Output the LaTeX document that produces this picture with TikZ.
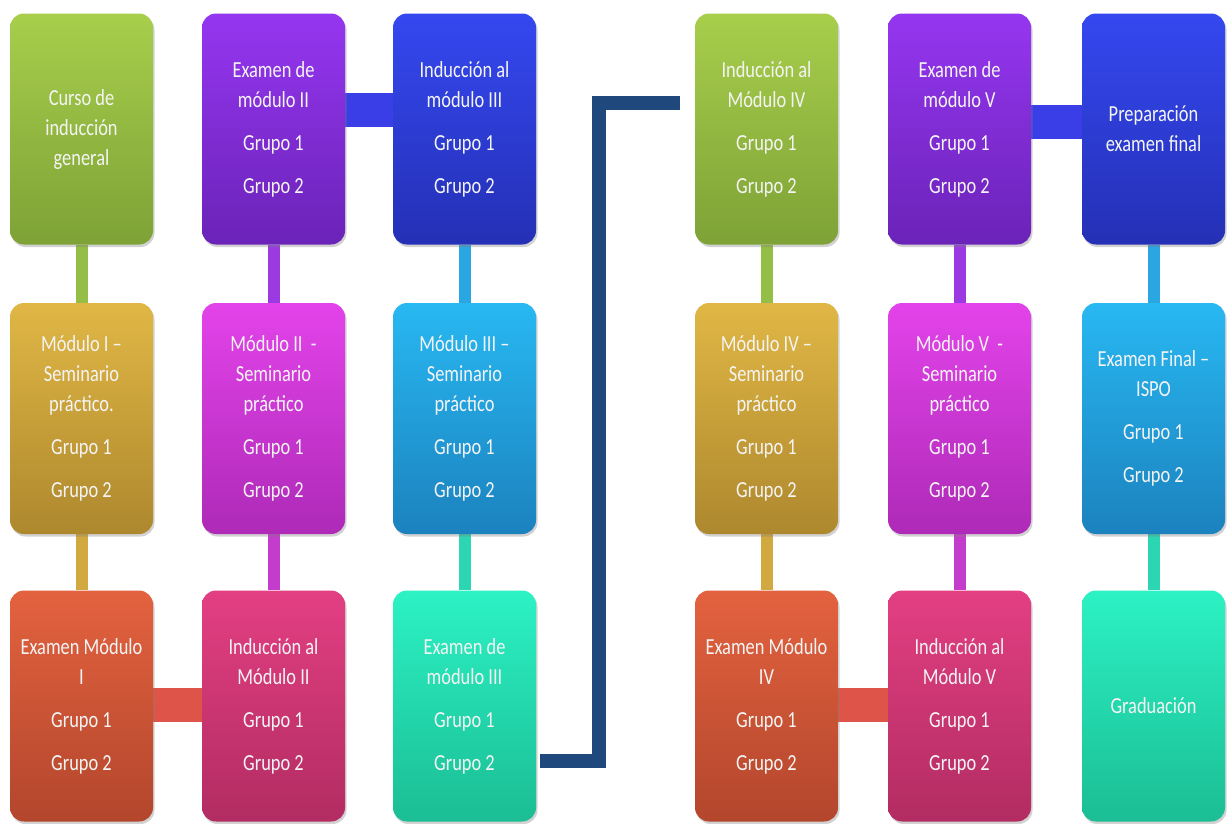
\documentclass[tikz,border=0pt]{standalone}
\usepackage{fontspec}
\setmainfont[FakeStretch=0.8]{Carlito}
\usetikzlibrary{shadows,backgrounds}
\definecolor{cgreenT}{HTML}{A8CE4C}\definecolor{cgreenB}{HTML}{7EA236}
\definecolor{cgoldT}{HTML}{E0B745}\definecolor{cgoldB}{HTML}{AE882E}
\definecolor{credT}{HTML}{E3623F}\definecolor{credB}{HTML}{B3462C}
\definecolor{cpurT}{HTML}{9536F0}\definecolor{cpurB}{HTML}{6B23B8}
\definecolor{cmagT}{HTML}{E343EA}\definecolor{cmagB}{HTML}{AE2AB7}
\definecolor{cpinkT}{HTML}{E33F82}\definecolor{cpinkB}{HTML}{B22C62}
\definecolor{cblueT}{HTML}{3548F0}\definecolor{cblueB}{HTML}{2430B5}
\definecolor{cskyT}{HTML}{28B8F2}\definecolor{cskyB}{HTML}{1B82BE}
\definecolor{caquaT}{HTML}{2CF2C4}\definecolor{caquaB}{HTML}{1BBD94}
\definecolor{celbow}{HTML}{1F497D}
\definecolor{cgreenL}{HTML}{94BE45}\definecolor{cgoldL}{HTML}{D2A840}
\definecolor{credL}{HTML}{DE5448}\definecolor{cpurL}{HTML}{9A3AE0}
\definecolor{cmagL}{HTML}{C43CCC}\definecolor{cblueL}{HTML}{3A3EE6}
\definecolor{cskyL}{HTML}{2AA6E2}\definecolor{caquaL}{HTML}{2CD6B2}
\definecolor{ctext}{HTML}{F4F4F4}
\tikzset{
  box/.style={rounded corners=14pt, minimum width=143pt, minimum height=231pt,
    text width=140pt, align=flush center, inner sep=0pt, text=ctext,
    font=\fontsize{23}{30}\selectfont,
    drop shadow={opacity=0.35, shadow xshift=1.5pt, shadow yshift=-2.5pt}},
  green/.style={box, top color=cgreenT, bottom color=cgreenB},
  gold/.style={box, top color=cgoldT, bottom color=cgoldB},
  red/.style={box, top color=credT, bottom color=credB},
  purple/.style={box, top color=cpurT, bottom color=cpurB},
  magenta/.style={box, top color=cmagT, bottom color=cmagB},
  pink/.style={box, top color=cpinkT, bottom color=cpinkB},
  blue/.style={box, top color=cblueT, bottom color=cblueB},
  sky/.style={box, top color=cskyT, bottom color=cskyB},
  aqua/.style={box, top color=caquaT, bottom color=caquaB},
  vconn/.style={line width=12pt},
  hconn/.style={line width=34pt},
  elbow/.style={line width=14pt, color=celbow, line join=miter}
}
\begin{document}
\begin{tikzpicture}[x=1pt,y=-1pt]
\useasboundingbox (0,0) rectangle (1228,823);
% column 1
\node[green] (b11) at (81.5,129) {Curso de\\inducción\\general};
\node[gold] (b21) at (81.5,418.5) {Módulo I –\\Seminario\\práctico.\\[13pt]Grupo 1\\[13pt]Grupo 2};
\node[red] (b31) at (81.5,706) {Examen Módulo\\I\\[13pt]Grupo 1\\[13pt]Grupo 2};
% column 2
\node[purple] (b12) at (273.5,129) {Examen de\\módulo II\\[13pt]Grupo 1\\[13pt]Grupo 2};
\node[magenta] (b22) at (273.5,418.5) {Módulo II~~-\\Seminario\\práctico\\[13pt]Grupo 1\\[13pt]Grupo 2};
\node[pink] (b32) at (273.5,706) {Inducción al\\Módulo II\\[13pt]Grupo 1\\[13pt]Grupo 2};
% column 3
\node[blue] (b13) at (464.5,129) {Inducción al\\módulo III\\[13pt]Grupo 1\\[13pt]Grupo 2};
\node[sky] (b23) at (464.5,418.5) {Módulo III –\\Seminario\\práctico\\[13pt]Grupo 1\\[13pt]Grupo 2};
\node[aqua] (b33) at (464.5,706) {Examen de\\módulo III\\[13pt]Grupo 1\\[13pt]Grupo 2};
% column 4
\node[green] (b14) at (766.5,129) {Inducción al\\Módulo IV\\[13pt]Grupo 1\\[13pt]Grupo 2};
\node[gold] (b24) at (766.5,418.5) {Módulo IV –\\Seminario\\práctico\\[13pt]Grupo 1\\[13pt]Grupo 2};
\node[red] (b34) at (766.5,706) {Examen Módulo\\IV\\[13pt]Grupo 1\\[13pt]Grupo 2};
% column 5
\node[purple] (b15) at (959.5,129) {Examen de\\módulo V\\[13pt]Grupo 1\\[13pt]Grupo 2};
\node[magenta] (b25) at (959.5,418.5) {Módulo V~~-\\Seminario\\práctico\\[13pt]Grupo 1\\[13pt]Grupo 2};
\node[pink] (b35) at (959.5,706) {Inducción al\\Módulo V\\[13pt]Grupo 1\\[13pt]Grupo 2};
% column 6
\node[blue] (b16) at (1153.5,129) {Preparación\\examen final};
\node[sky] (b26) at (1153.5,418.5) {Examen Final –\\ISPO\\[13pt]Grupo 1\\[13pt]Grupo 2};
\node[aqua] (b36) at (1153.5,706) {Graduación};
% connectors
\begin{scope}[on background layer]
\fill[white] (0,0) rectangle (1228,823);
\draw[vconn, cgreenL] (b11.south) -- (b21.north);
\draw[vconn, cgoldL] (b21.south) -- (b31.north);
\draw[vconn, cpurL] (b12.south) -- (b22.north);
\draw[vconn, cmagL] (b22.south) -- (b32.north);
\draw[vconn, cskyL] (b13.south) -- (b23.north);
\draw[vconn, caquaL] (b23.south) -- (b33.north);
\draw[vconn, cgreenL] (b14.south) -- (b24.north);
\draw[vconn, cgoldL] (b24.south) -- (b34.north);
\draw[vconn, cpurL] (b15.south) -- (b25.north);
\draw[vconn, cmagL] (b25.south) -- (b35.north);
\draw[vconn, cskyL] (b16.south) -- (b26.north);
\draw[vconn, caquaL] (b26.south) -- (b36.north);
\draw[hconn, cblueL] ([yshift=19pt]b12.east) -- ([yshift=19pt]b13.west);
\draw[hconn, credL] ([yshift=1pt]b31.east) -- ([yshift=1pt]b32.west);
\draw[hconn, credL] ([yshift=1pt]b34.east) -- ([yshift=1pt]b35.west);
\draw[hconn, cblueL] ([yshift=7pt]b15.east) -- ([yshift=7pt]b16.west);
\end{scope}
\coordinate (eA) at (540,761);
\coordinate (eB) at (599,103);
\coordinate (eC) at (680,103);
\draw[elbow] (eA) -| (eB) -- (eC);
\end{tikzpicture}
\end{document}
